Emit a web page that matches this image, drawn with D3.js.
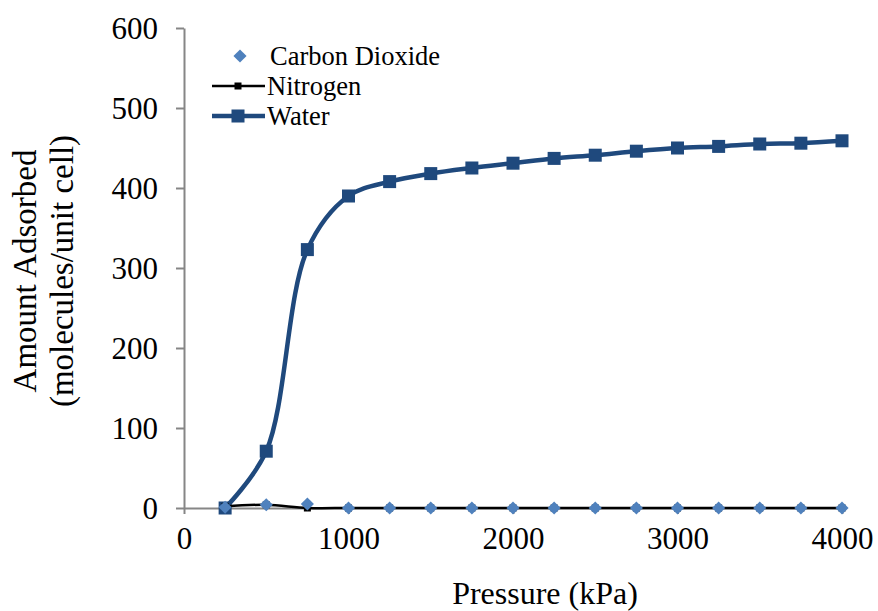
<!DOCTYPE html>
<html>
<head>
<meta charset="utf-8">
<script src="https://cdn.jsdelivr.net/npm/d3@7/dist/d3.min.js"></script>
<style>
  html, body { margin: 0; padding: 0; background: #fff; }
  svg { display: block; font-family: "Liberation Serif", "Times New Roman", serif; }
</style>
</head>
<body>
<svg id="chart" width="878" height="611"></svg>
<script>
// Adsorption isotherms: amount adsorbed vs pressure
const pressure = [250, 500, 750, 1000, 1250, 1500, 1750, 2000, 2250, 2500, 2750, 3000, 3250, 3500, 3750, 4000];
const carbonDioxide = [1, 4, 5, 0, 0, 0, 0, 0, 0, 0, 0, 0, 0, 0, 0, 0];
const nitrogen = [2, 4, 0, 0, 0, 0, 0, 0, 0, 0, 0, 0, 0, 0, 0, 0];
const water = [0, 71, 323, 390, 408, 418, 425, 431, 437, 441, 446, 450, 452, 455, 456, 459];
const xTicks = [0, 1000, 2000, 3000, 4000];
const yTicks = [0, 100, 200, 300, 400, 500, 600];
const seriesNames = ["Carbon Dioxide", "Nitrogen", "Water"];

const colors = { co2: "#4f81bd", n2: "#000000", water: "#1f497d", axis: "#868686" };

const svg = d3.select("#chart");
const x = d3.scaleLinear().domain([0, 4000]).range([184, 842]);
const y = d3.scaleLinear().domain([0, 600]).range([508, 28]);

// Axes
const xAxis = d3.axisBottom(x).tickValues(xTicks).tickSize(6).tickSizeOuter(0).tickPadding(8).tickFormat(d3.format("d"));
const yAxis = d3.axisLeft(y).tickValues(yTicks).tickSize(8).tickSizeOuter(0).tickPadding(18).tickFormat(d3.format("d"));

const gx = svg.append("g").attr("transform", `translate(0,${y(0)})`).call(xAxis);
const gy = svg.append("g").attr("transform", `translate(${x(0)},0)`).call(yAxis);
[gx, gy].forEach(g => {
  g.select(".domain").attr("stroke", colors.axis).attr("stroke-width", 2);
  g.selectAll(".tick line").attr("stroke", colors.axis).attr("stroke-width", 2);
  g.selectAll(".tick text").attr("fill", "#000").style("font-size", "31px")
    .style("font-family", "'Liberation Serif', 'Times New Roman', serif");
});
gy.selectAll(".tick text").attr("dy", "0.34em");
gx.selectAll(".tick text").attr("dy", "0.88em");

// Axis titles
svg.append("text").attr("x", 545).attr("y", 604).attr("text-anchor", "middle")
  .style("font-size", "32px").text("Pressure (kPa)");
const yTitle = svg.append("text").attr("transform", "rotate(-90)").attr("text-anchor", "middle")
  .style("font-size", "33px");
yTitle.append("tspan").attr("x", -271).attr("y", 36).text("Amount Adsorbed");
yTitle.append("tspan").attr("x", -271).attr("y", 73).text("(molecules/unit cell)");

const pts = arr => pressure.map((p, i) => [p, arr[i]]);
const line = d3.line().x(d => x(d[0])).y(d => y(d[1])).curve(d3.curveCatmullRom.alpha(0.5));

// Water
svg.append("path").datum(pts(water)).attr("d", line)
  .attr("fill", "none").attr("stroke", colors.water).attr("stroke-width", 4.5);
svg.append("g").selectAll("rect").data(pts(water)).join("rect")
  .attr("x", d => x(d[0]) - 6.5).attr("y", d => y(d[1]) - 6.5)
  .attr("width", 13).attr("height", 13).attr("fill", colors.water);

// Nitrogen
svg.append("path").datum(pts(nitrogen)).attr("d", line)
  .attr("fill", "none").attr("stroke", colors.n2).attr("stroke-width", 2.5);
svg.append("g").selectAll("rect").data(pts(nitrogen)).join("rect")
  .attr("x", d => x(d[0]) - 3.5).attr("y", d => y(d[1]) - 3.5)
  .attr("width", 7).attr("height", 7).attr("fill", colors.n2);

// Carbon dioxide (markers only)
const diamond = d3.symbol().type(d3.symbolDiamond2).size(110);
svg.append("g").selectAll("path").data(pts(carbonDioxide)).join("path")
  .attr("d", diamond)
  .attr("transform", d => `translate(${x(d[0])},${y(d[1])})`)
  .attr("fill", colors.co2);

// Legend
const legend = svg.append("g").style("font-size", "26.5px");
const rows = [56, 86, 116];
legend.append("path").attr("d", diamond).attr("transform", `translate(240,${rows[0]})`).attr("fill", colors.co2);
legend.append("line").attr("x1", 212).attr("x2", 265).attr("y1", rows[1]).attr("y2", rows[1])
  .attr("stroke", colors.n2).attr("stroke-width", 2.5);
legend.append("rect").attr("x", 238 - 3.5).attr("y", rows[1] - 3.5).attr("width", 7).attr("height", 7).attr("fill", colors.n2);
legend.append("line").attr("x1", 212).attr("x2", 265).attr("y1", rows[2]).attr("y2", rows[2])
  .attr("stroke", colors.water).attr("stroke-width", 4.5);
legend.append("rect").attr("x", 238 - 6.5).attr("y", rows[2] - 6.5).attr("width", 13).attr("height", 13).attr("fill", colors.water);
legend.selectAll("text.lbl").data(seriesNames).join("text").attr("class", "lbl")
  .attr("x", (d, i) => i === 0 ? 270 : 267).attr("y", (d, i) => rows[i] + 9).text(d => d);
</script>
</body>
</html>
